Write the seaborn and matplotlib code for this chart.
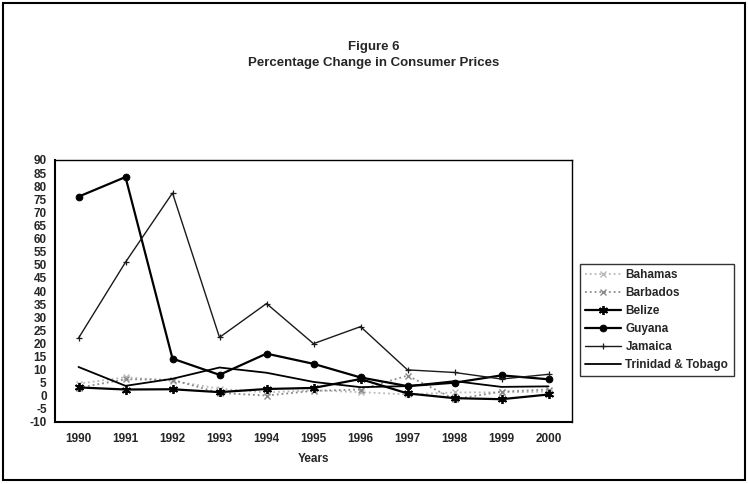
import numpy as np
import pandas as pd
import matplotlib.pyplot as plt
import seaborn as sns
from matplotlib.patches import Rectangle
from matplotlib.ticker import FixedLocator, NullFormatter

# data
years = [1990, 1991, 1992, 1993, 1994, 1995, 1996, 1997, 1998, 1999, 2000]
bahamas = [4.6, 7.1, 5.7, 2.7, 1.3, 2.1, 1.4, 0.5, 1.3, 1.3, 1.6]
barbados = [3.1, 6.3, 6.1, 1.1, 0.1, 1.9, 2.4, 7.7, -1.3, 1.6, 2.4]
belize = [3.2, 2.4, 2.5, 1.4, 2.6, 3.0, 6.4, 0.9, -0.9, -1.3, 0.5]
guyana = [76.0, 83.5, 14.2, 8.0, 16.1, 12.2, 7.0, 3.7, 5.0, 7.8, 6.3]
jamaica = [22.0, 51.0, 77.4, 22.3, 35.2, 19.9, 26.4, 9.9, 8.9, 6.4, 8.2]
trinidad = [11.0, 3.8, 6.5, 10.8, 8.8, 5.3, 3.3, 3.7, 5.6, 3.4, 3.6]

series = ["Bahamas", "Barbados", "Belize", "Guyana", "Jamaica", "Trinidad & Tobago"]
values = [bahamas, barbados, belize, guyana, jamaica, trinidad]

styles = {
    "Bahamas": dict(color="#b8b8b8", linestyle=":", linewidth=1.3, marker="x",
                    markersize=4, markeredgecolor="#b8b8b8", markeredgewidth=1.0),
    "Barbados": dict(color="#8a8a8a", linestyle=":", linewidth=1.3, marker="x",
                     markersize=4, markeredgecolor="#8a8a8a", markeredgewidth=1.0),
    "Belize": dict(color="black", linestyle="-", linewidth=1.6, marker=(6, 2, 0),
                   markersize=6.5, markeredgecolor="black", markeredgewidth=1.3),
    "Guyana": dict(color="black", linestyle="-", linewidth=1.6, marker="o",
                   markersize=4.8, markeredgecolor="black"),
    "Jamaica": dict(color="#1a1a1a", linestyle="-", linewidth=1.0, marker="+",
                    markersize=5, markeredgecolor="#1a1a1a", markeredgewidth=0.9),
    "Trinidad & Tobago": dict(color="black", linestyle="-", linewidth=1.3),
}

sns.set_style("white")
plt.rcParams['font.family'] = ['Liberation Sans', 'DejaVu Sans']
plt.rcParams['font.weight'] = 'bold'

fig = plt.figure(figsize=(7.48, 4.84), dpi=100)
ax = fig.add_axes([55 / 748, 1 - 422 / 484, (572 - 55) / 748, (422 - 160) / 484])

for name, vals in zip(series, values):
    sns.lineplot(x=years, y=vals, ax=ax, label=name, **styles[name])

ax.set_xlim(1989.5, 2000.5)
ax.set_ylim(-10, 90)
ax.set_yticks(np.arange(-10, 91, 5))
ax.set_yticklabels([str(v) for v in range(-10, 91, 5)], fontsize=8.5, fontweight='bold')

# category axis: tick marks between years, labels centred on years
ax.xaxis.set_major_locator(FixedLocator(np.arange(1989.5, 2001, 1)))
ax.xaxis.set_major_formatter(NullFormatter())
ax.xaxis.set_minor_locator(FixedLocator(years))
ax.set_xticklabels([str(y) for y in years], minor=True, fontsize=8.5, fontweight='bold')
ax.tick_params(axis='x', which='minor', length=0, pad=8)
ax.tick_params(axis='both', which='major', direction='out', length=4, width=1, color='black')
ax.tick_params(axis='y', pad=2)

for s in ax.spines.values():
    s.set_color('black')
    s.set_linewidth(1.0)
ax.spines['left'].set_linewidth(1.5)
ax.spines['bottom'].set_linewidth(1.5)

ax.set_xlabel("Years", fontsize=8.5, fontweight='bold', labelpad=6)
ax.set_ylabel("")

handles, labels = ax.get_legend_handles_labels()
ax.get_legend().remove()
leg = fig.legend(handles, labels, loc='upper left',
                 bbox_to_anchor=(580 / 748, 1 - 264 / 484),
                 prop={'size': 8.5, 'weight': 'bold'}, frameon=True, fancybox=False,
                 borderaxespad=0, handlelength=3.0, labelspacing=0.5,
                 borderpad=0.45, handletextpad=0.4)
leg.get_frame().set_edgecolor('black')
leg.get_frame().set_linewidth(1.0)

fig.text(0.5, 1 - 47 / 484, "Figure 6", ha='center', va='center', fontsize=9.5, fontweight='bold')
fig.text(0.5, 1 - 63 / 484, "Percentage Change in Consumer Prices", ha='center', va='center',
         fontsize=9.5, fontweight='bold')

fig.patches.append(Rectangle((3 / 748, 4 / 484), 742 / 748, 477 / 484, transform=fig.transFigure,
                             fill=False, edgecolor='black', linewidth=1.5))

fig.savefig("out.png", dpi=100)
